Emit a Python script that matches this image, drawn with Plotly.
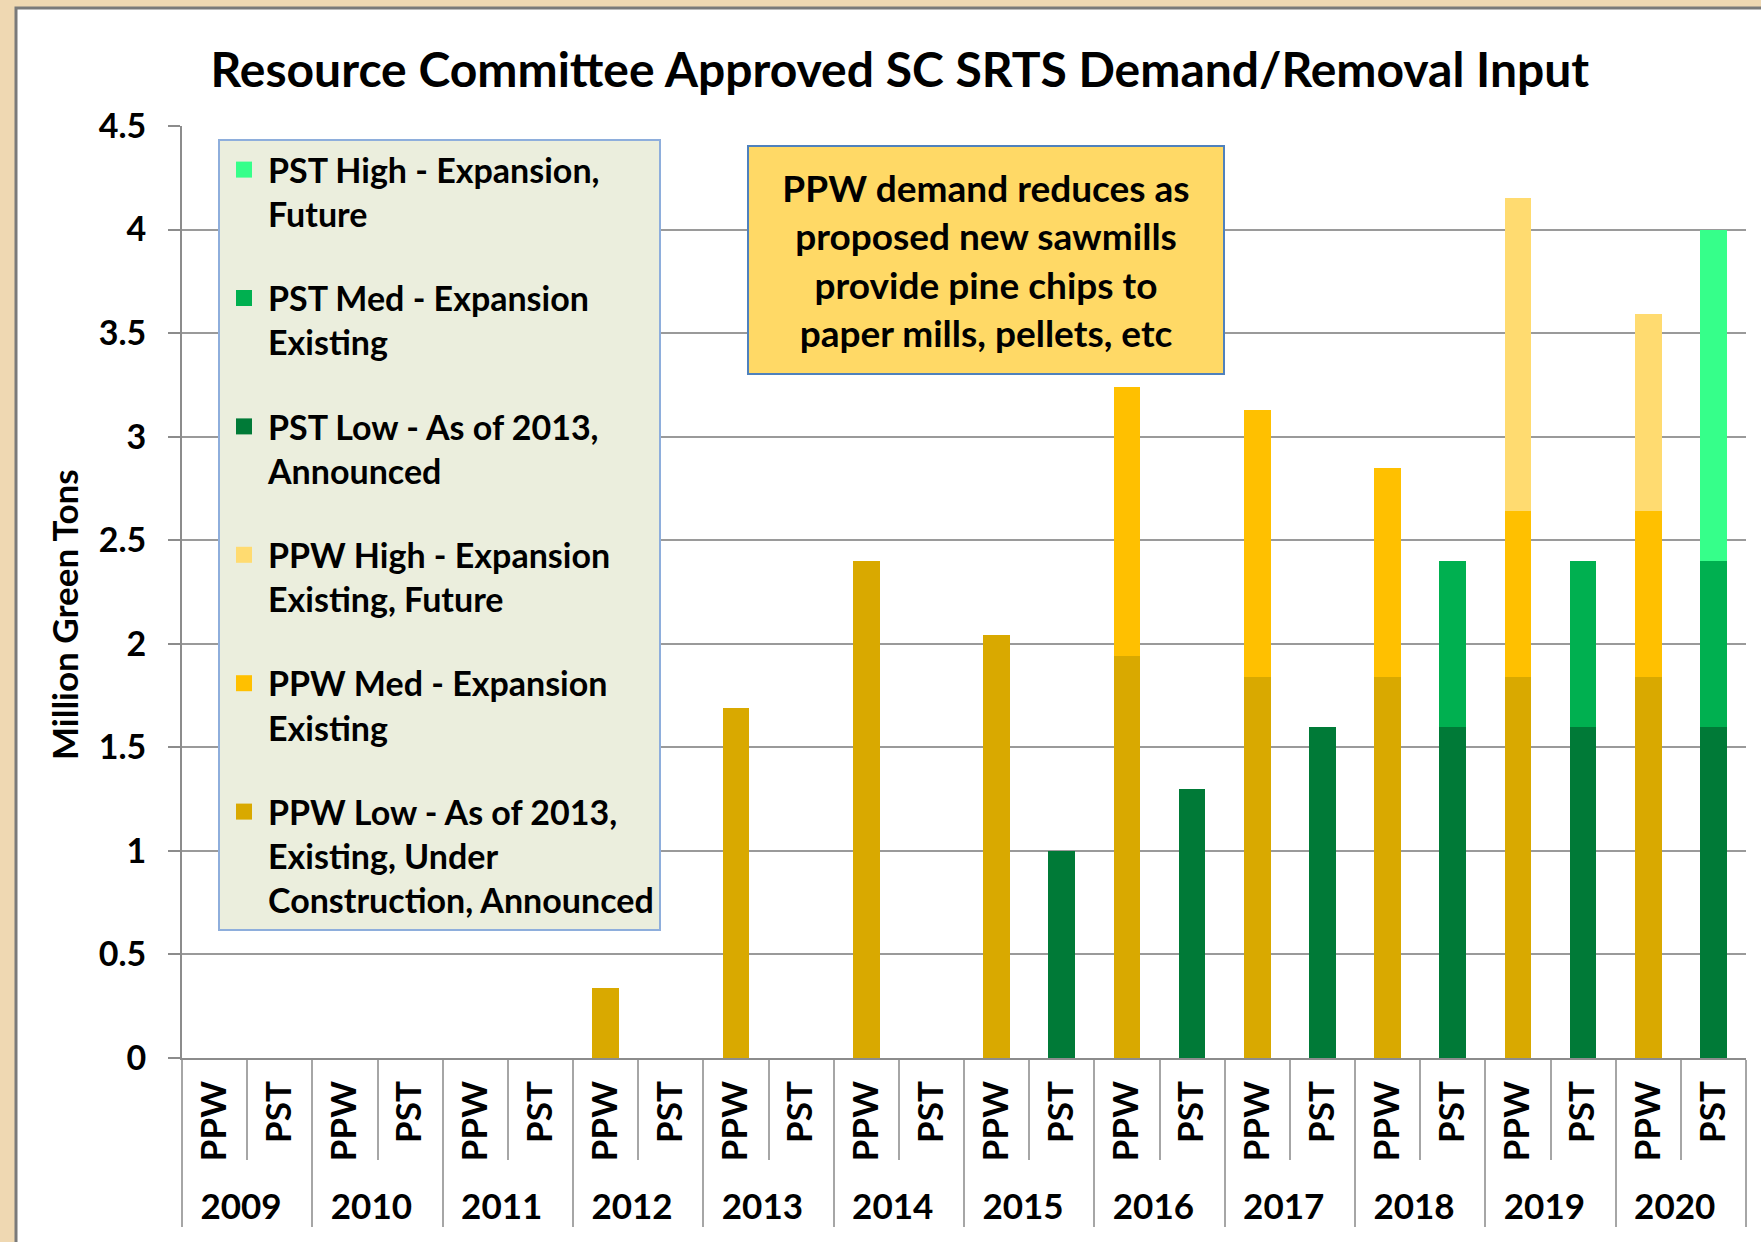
import plotly.graph_objects as go

# ---------------- data ----------------
years = ["2009", "2010", "2011", "2012", "2013", "2014", "2015", "2016", "2017", "2018", "2019", "2020"]
groups = ["PPW", "PST"]

# segment heights (million green tons), stacked bottom -> top
ppw_low = [0, 0, 0, 0.34, 1.69, 2.40, 2.04, 1.94, 1.84, 1.84, 1.84, 1.84]
ppw_med = [0, 0, 0, 0, 0, 0, 0, 1.30, 1.29, 1.01, 0.80, 0.80]
ppw_high = [0, 0, 0, 0, 0, 0, 0, 0, 0, 0, 1.51, 0.95]
pst_low = [0, 0, 0, 0, 0, 0, 1.00, 1.30, 1.60, 1.60, 1.60, 1.60]
pst_med = [0, 0, 0, 0, 0, 0, 0, 0, 0, 0.80, 0.80, 0.80]
pst_high = [0, 0, 0, 0, 0, 0, 0, 0, 0, 0, 0, 1.60]

series = [
    ("PPW Low - As of 2013,<br>Existing, Under<br>Construction, Announced", "PPW", ppw_low, "#D9A900"),
    ("PPW Med - Expansion<br>Existing", "PPW", ppw_med, "#FFC000"),
    ("PPW High - Expansion<br>Existing, Future", "PPW", ppw_high, "#FFDB70"),
    ("PST Low - As of 2013,<br>Announced", "PST", pst_low, "#007A37"),
    ("PST Med - Expansion<br>Existing", "PST", pst_med, "#00B050"),
    ("PST High - Expansion,<br>Future", "PST", pst_high, "#36FF8A"),
]

title_text = "Resource Committee Approved SC SRTS Demand/Removal Input"
ytitle = "Million Green Tons"
note_text = "PPW demand reduces as<br>proposed new sawmills<br>provide pine chips to<br>paper mills, pellets, etc"
yticks = [0, 0.5, 1, 1.5, 2, 2.5, 3, 3.5, 4, 4.5]
yticktext = ["0", "0.5", "1", "1.5", "2", "2.5", "3", "3.5", "4", "4.5"]

# ---------------- figure ----------------
FONT = "Lato"
x_outer = [y for y in years for _ in groups]
x_inner = [g for _ in years for g in groups]

fig = go.Figure()
# stacked bars (first trace at the bottom of each stack)
for i, (name, grp, vals, color) in enumerate(series):
    yv = []
    for yi, _ in enumerate(years):
        for g in groups:
            v = vals[yi] if g == grp else None
            yv.append(v if v else None)
    fig.add_trace(go.Bar(
        x=[x_outer, x_inner], y=yv, name=name,
        marker=dict(color=color, line=dict(width=0)),
        showlegend=False,
    ))
# legend entries (top of stack listed first, as in the original)
for i, (name, grp, vals, color) in enumerate(reversed(series)):
    fig.add_trace(go.Scatter(
        x=[None], y=[None], mode="markers", name=name,
        marker=dict(symbol="square", size=16, color=color),
        legendgroup=f"g{i}", showlegend=True, hoverinfo="skip",
    ))

W, H = 1761, 1242
L, R, T, B = 182, 15, 126, 184
pw, ph = W - L - R, H - T - B


def px2x(px):
    return (px - L) / pw


def px2y(py):
    return (H - B - py) / ph


fig.update_layout(
    width=W, height=H,
    margin=dict(l=L, r=R, t=T, b=B),
    paper_bgcolor="#EFD8B2",
    plot_bgcolor="white",
    barmode="stack",
    bargap=0.59,
    font=dict(family=FONT, color="black", weight="bold"),
    title=dict(text=title_text, x=0.511, xanchor="center", y=1 - 70 / H, yanchor="middle",
               font=dict(family=FONT, size=48, color="black", weight="bold")),
    showlegend=True,
    legend=dict(
        x=px2x(218), y=px2y(139), xanchor="left", yanchor="top",
        bgcolor="#EBEEDD", bordercolor="#8EAEDC", borderwidth=2,
        font=dict(family=FONT, size=34, color="black", weight="bold"),
        traceorder="grouped", tracegroupgap=37, valign="top",
        itemwidth=38,
        itemclick=False, itemdoubleclick=False,
    ),
    xaxis=dict(
        type="multicategory",
        showline=True, linecolor="#8C8C8C", linewidth=2,
        ticks="outside", ticklen=100, tickcolor="#A6A6A6", tickwidth=1.5,
        tickangle=-90,
        ticklabelstandoff=7,
        showdividers=True, dividercolor="#A6A6A6", dividerwidth=1.5,
        tickfont=dict(family=FONT, size=35, color="black", weight="bold"),
        showgrid=False,
    ),
    yaxis=dict(
        range=[0, 4.5], tickvals=yticks, ticktext=yticktext,
        showline=True, linecolor="#8C8C8C", linewidth=2,
        ticks="outside", ticklen=12, tickcolor="#8C8C8C", tickwidth=2,
        showgrid=True, gridcolor="#9A9A9A", gridwidth=2,
        zeroline=False,
        ticklabelstandoff=15,
        tickfont=dict(family=FONT, size=34, color="black", weight="bold"),
    ),
    shapes=[
        dict(type="rect", xref="paper", yref="paper", layer="below",
             x0=px2x(16), x1=px2x(W + 10), y0=px2y(8), y1=px2y(H + 10),
             fillcolor="white", line=dict(color="#7A7A7A", width=3)),
    ],
    annotations=[
        dict(text=ytitle, xref="paper", yref="paper",
             x=px2x(64), y=px2y(615), xanchor="center", yanchor="middle",
             textangle=-90, showarrow=False,
             font=dict(family=FONT, size=35, color="black", weight="bold")),
        dict(text=note_text, xref="paper", yref="paper",
             x=px2x(986), y=px2y(260), xanchor="center", yanchor="middle",
             showarrow=False, align="center",
             width=470, height=222,
             bgcolor="#FFD966", bordercolor="#4F81BD", borderwidth=2, borderpad=2,
             font=dict(family=FONT, size=37, color="black", weight="bold")),
    ],
)

fig.write_html(
    "out.html",
    config={"displayModeBar": False},
    post_script="document.body.style.margin='0';document.body.style.background='#EFD8B2';",
)
